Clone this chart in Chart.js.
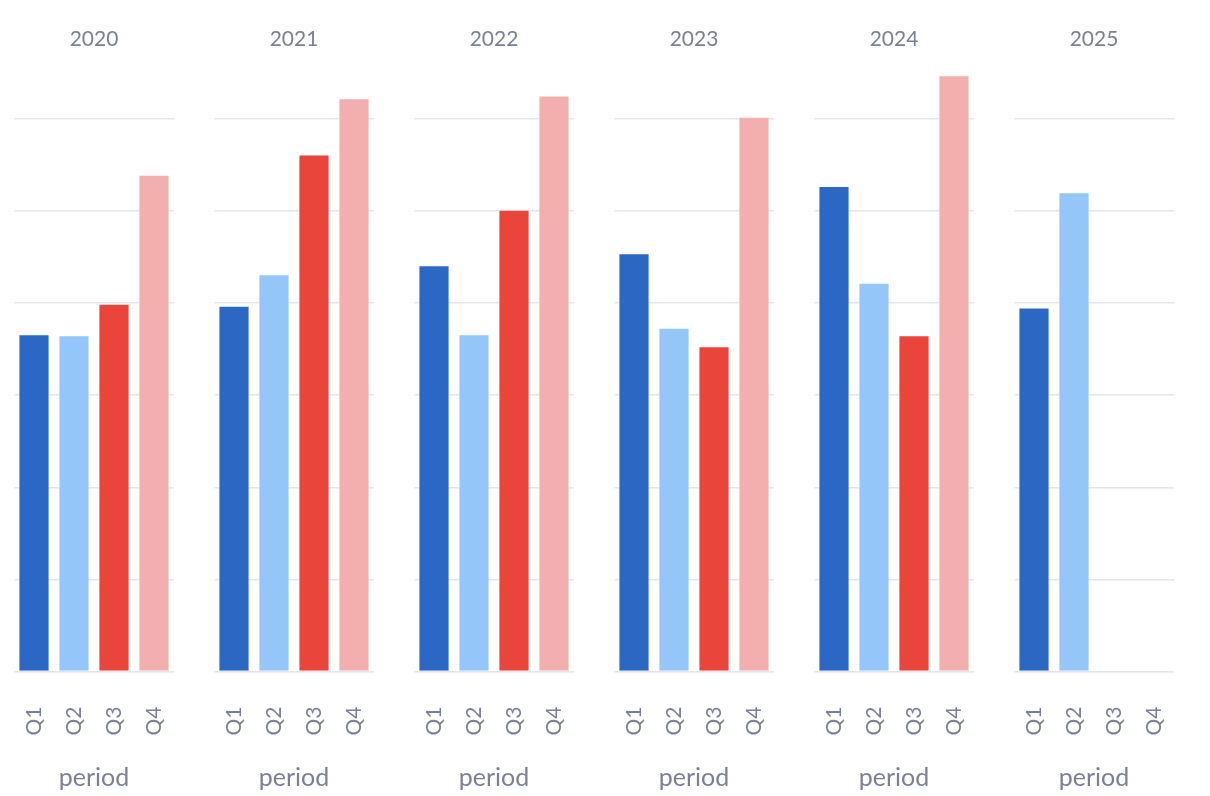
<!DOCTYPE html>
<html>
<head>
<meta charset="utf-8">
<script src="https://cdn.jsdelivr.net/npm/chart.js@4.4.1/dist/chart.umd.min.js"></script>
<style>
  body { margin: 0; background: #fff; }
  #wrap { position: relative; width: 1210px; height: 796px; }
  .panel { position: absolute; top: 0; width: 200px; height: 796px; }
</style>
</head>
<body>
<div id="wrap"></div>
<script>
// Quarterly values per year (grid step = 10)
var years = ['2020', '2021', '2022', '2023', '2024', '2025'];
var quarters = ['Q1', 'Q2', 'Q3', 'Q4'];
var v2020 = [36.6, 36.5, 39.9, 53.9];
var v2021 = [39.7, 43.1, 56.1, 62.2];
var v2022 = [44.1, 36.6, 50.1, 62.5];
var v2023 = [45.4, 37.3, 35.3, 60.2];
var v2024 = [52.7, 42.2, 36.5, 64.7];
var v2025 = [39.5, 52.0, null, null];
var quarterColors = ['#2c68c3', '#95c6f9', '#e9453b', '#f2afad'];

var allValues = [v2020, v2021, v2022, v2023, v2024, v2025];
var yMax = Math.max.apply(null, [].concat.apply([], allValues).filter(function (v) { return v !== null; }));

var textColor = '#7b7f96';
var gridColor = '#e2e5ed';
var fontFamily = 'Lato, "Open Sans", sans-serif';

var wrap = document.getElementById('wrap');

years.forEach(function (year, i) {
    var div = document.createElement('div');
    div.className = 'panel';
    div.style.left = (i * 200) + 'px';
    var canvas = document.createElement('canvas');
    canvas.width = 200;
    canvas.height = 796;
    div.appendChild(canvas);
    wrap.appendChild(div);

    var chartData = {
        labels: quarters,
        datasets: [{
            label: year,
            data: allValues[i],
            backgroundColor: quarterColors,
            borderColor: 'rgba(255,255,255,0.45)',
            borderWidth: 1,
            barPercentage: 0.78,
            categoryPercentage: 1
        }]
    };

    var chartOptions = {
        responsive: false,
        animation: false,
        layout: { padding: { left: 14, right: 26, top: 0, bottom: 0 } },
        plugins: {
            legend: { display: false },
            tooltip: { enabled: false },
            title: {
                display: true,
                text: year,
                color: textColor,
                font: { family: fontFamily, size: 21, weight: 'normal', lineHeight: 1.2 },
                padding: { top: 26.4, bottom: 23.7 }
            }
        },
        scales: {
            x: {
                grid: { display: false },
                border: { display: false },
                ticks: {
                    color: textColor,
                    font: { family: fontFamily, size: 21 },
                    minRotation: 90,
                    maxRotation: 90,
                    padding: 27,
                    autoSkip: false
                },
                title: {
                    display: true,
                    text: 'period',
                    color: textColor,
                    font: { family: fontFamily, size: 25 },
                    padding: { top: 0, bottom: 3 }
                },
                afterFit: function (scale) {
                    scale.height = 124.4;
                    scale.paddingLeft = 0;
                    scale.paddingRight = 0;
                }
            },
            y: {
                min: 0,
                max: yMax,
                border: { display: false },
                grid: { color: gridColor, lineWidth: 1.5, drawTicks: false },
                ticks: { display: false, stepSize: 10, includeBounds: false }
            }
        }
    };

    new Chart(canvas, { type: 'bar', data: chartData, options: chartOptions });
});
</script>
</body>
</html>
